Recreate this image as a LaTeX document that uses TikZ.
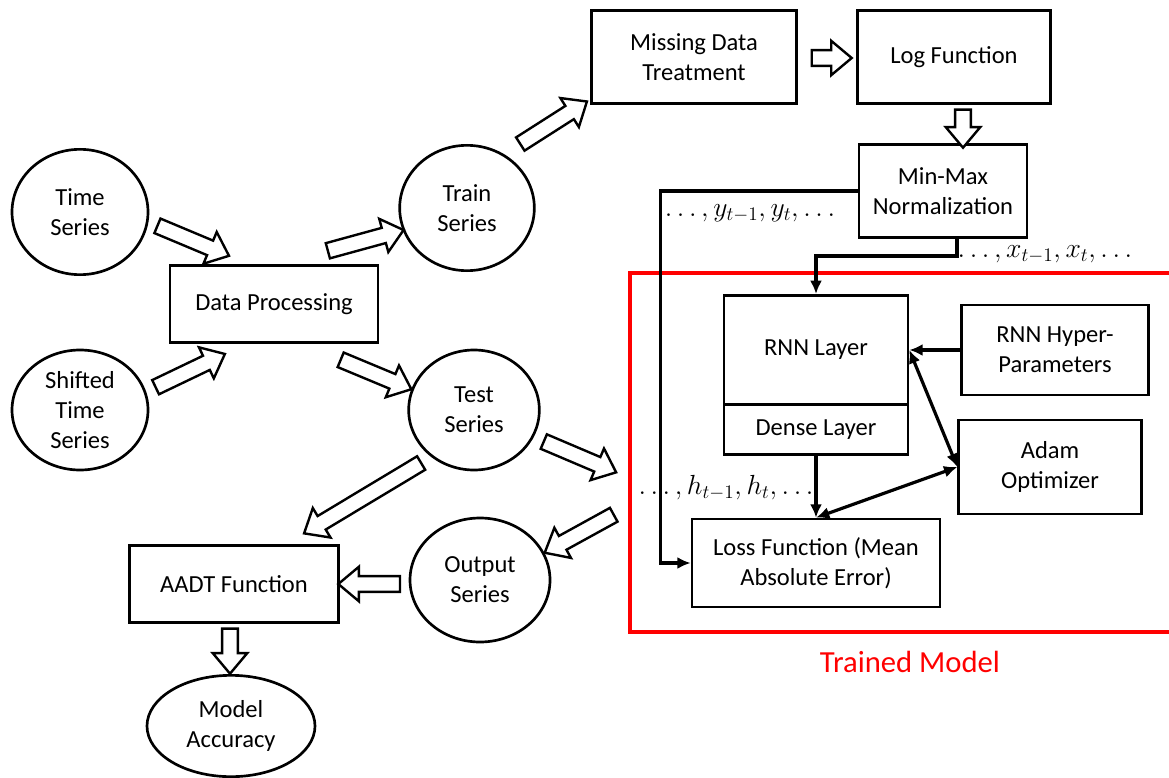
\documentclass[tikz,border=0pt]{standalone}
\usepackage{fontspec}
\setmainfont{Carlito}
\usetikzlibrary{shapes.geometric,shapes.arrows,arrows.meta,calc}

\tikzset{
  box/.style={draw, line width=2pt, align=center, inner sep=0pt},
  series/.style={draw, ellipse, line width=2pt, align=center, inner sep=0pt},
  hollow/.style={single arrow, draw, line width=1.8pt, fill=white, inner xsep=0pt,
    inner ysep=5pt, single arrow head extend=7pt, single arrow tip angle=80,
    allow upside down},
  link/.style={line width=2.4pt},
  seq/.style={font=\fontsize{20}{24}\selectfont},
  >={Latex[length=10pt,width=9pt]},
}
\newcommand{\blockarrow}[2]{%
  \path let \p1=(#1), \p2=(#2), \n1={veclen(\x2-\x1,\y2-\y1)} in
    (#1) -- (#2) node[hollow, midway, sloped, minimum height=\n1] {};}

\begin{document}
\begin{tikzpicture}[x=0.75pt, y=-0.75pt, font=\fontsize{18.4}{22.5}\selectfont]
    \useasboundingbox (0,0) rectangle (1169,777);
    \node[series, minimum width=102pt, minimum height=94pt] (ts) at (80,212) {Time\\Series};
    \node[series, minimum width=102pt, minimum height=90pt] (sts) at (80,410) {Shifted\\Time\\Series};
    \node[box, minimum width=156pt, minimum height=58pt] (dp) at (274,304) {Data Processing};
    \node[series, minimum width=101pt, minimum height=94pt] (train) at (467,208) {Train\\Series};
    \node[series, minimum width=98pt, minimum height=90pt] (test) at (474,410) {Test\\Series};
    \node[series, minimum width=105pt, minimum height=93pt] (out) at (480,580) {Output\\Series};
    \node[box, minimum width=157pt, minimum height=58pt] (aadt) at (234,584) {AADT Function};
    \node[series, minimum width=126pt, minimum height=76pt] (acc) at (231,726) {Model\\Accuracy};
    \node[box, minimum width=154pt, minimum height=70pt] (mdt) at (694,57) {Missing Data\\Treatment};
    \node[box, minimum width=145pt, minimum height=70pt] (log) at (954,57) {Log Function};
    \node[box, minimum width=126pt, minimum height=70pt] (mm) at (943,191) {Min-Max\\Normalization};
    \node[draw=red, line width=3pt, minimum width=409pt, minimum height=269pt] (model) at (902.5,452.5) {};
    \node[text=red, font=\fontsize{23}{27}\selectfont] (tm) at (910,662) {Trained Model};
    \node[box, minimum width=138pt, minimum height=82pt] (rnn) at (816,350) {RNN Layer};
    \node[box, outer sep=0pt, minimum width=138pt, minimum height=37.5pt, anchor=north] (dense) at ([yshift=1pt]rnn.south) {Dense Layer};
    \node[box, minimum width=140pt, minimum height=67.5pt] (hyp) at (1055,350) {RNN Hyper-\\Parameters};
    \node[box, minimum width=137pt, minimum height=70.5pt] (adam) at (1050,467) {Adam\\Optimizer};
    \node[box, minimum width=186pt, minimum height=66pt] (loss) at (816,563) {Loss Function (Mean\\Absolute Error)};
    \node[seq] (xseq) at (1045,254) {$\ldots, x_{t-1}, x_t, \ldots$};
    \node[seq] (yseq) at (750,213) {$\ldots, y_{t-1}, y_t, \ldots$};
    \node[seq] (hseq) at (726,488) {$\ldots, h_{t-1}, h_t, \ldots$};
    \draw[link, ->] ([xshift=10.5pt]mm.south) -- ++(0,17) -| (rnn.north);
    \draw[link, ->] (mm.west) -- ++(-197,0) |- (loss.west);
    \draw[link, ->] (dense.south) -- (loss.north);
    \draw[link, ->] (hyp.west) -- (rnn.east);
    \draw[link, <->] (rnn.east) -- (adam.west);
    \draw[link, <->] (adam.west) -- (loss.north);
    \blockarrow{$(ts.-10)+(5,0)$}{$(dp.north west)+(56,-10)$}
    \blockarrow{$(sts.15)+(5,-3)$}{$(dp.south west)+(52,12)$}
    \blockarrow{$(dp.north east)+(-56,-12)$}{$(train.200)+(-4,0)$}
    \blockarrow{$(dp.south east)+(-43,14)$}{$(test.160)+(-5,0)$}
    \blockarrow{$(train.50)+(7,-11)$}{$(mdt.south west)+(-7,-1)$}
    \blockarrow{$(test.-25)+(6,2)$}{$(model.west)+(-16,18)$}
    \blockarrow{$(model.west)+(-10,60)$}{$(out.30)+(9,5)$}
    \blockarrow{$(test.230)+(-8,2)$}{$(aadt.north east)+(-32,-13)$}
    \blockarrow{$(out.west)+(-4,4)$}{$(aadt.east)+(3,0)$}
    \blockarrow{$(aadt.south)+(-4,0)$}{$(acc.north)+(-1,-5)$}
    \blockarrow{$(mdt.east)+(9,1)$}{$(log.west)+(-9,1)$}
    \blockarrow{$(log.south)+(9,0)$}{$(mm.north)+(20,0)$}
\end{tikzpicture}
\end{document}
